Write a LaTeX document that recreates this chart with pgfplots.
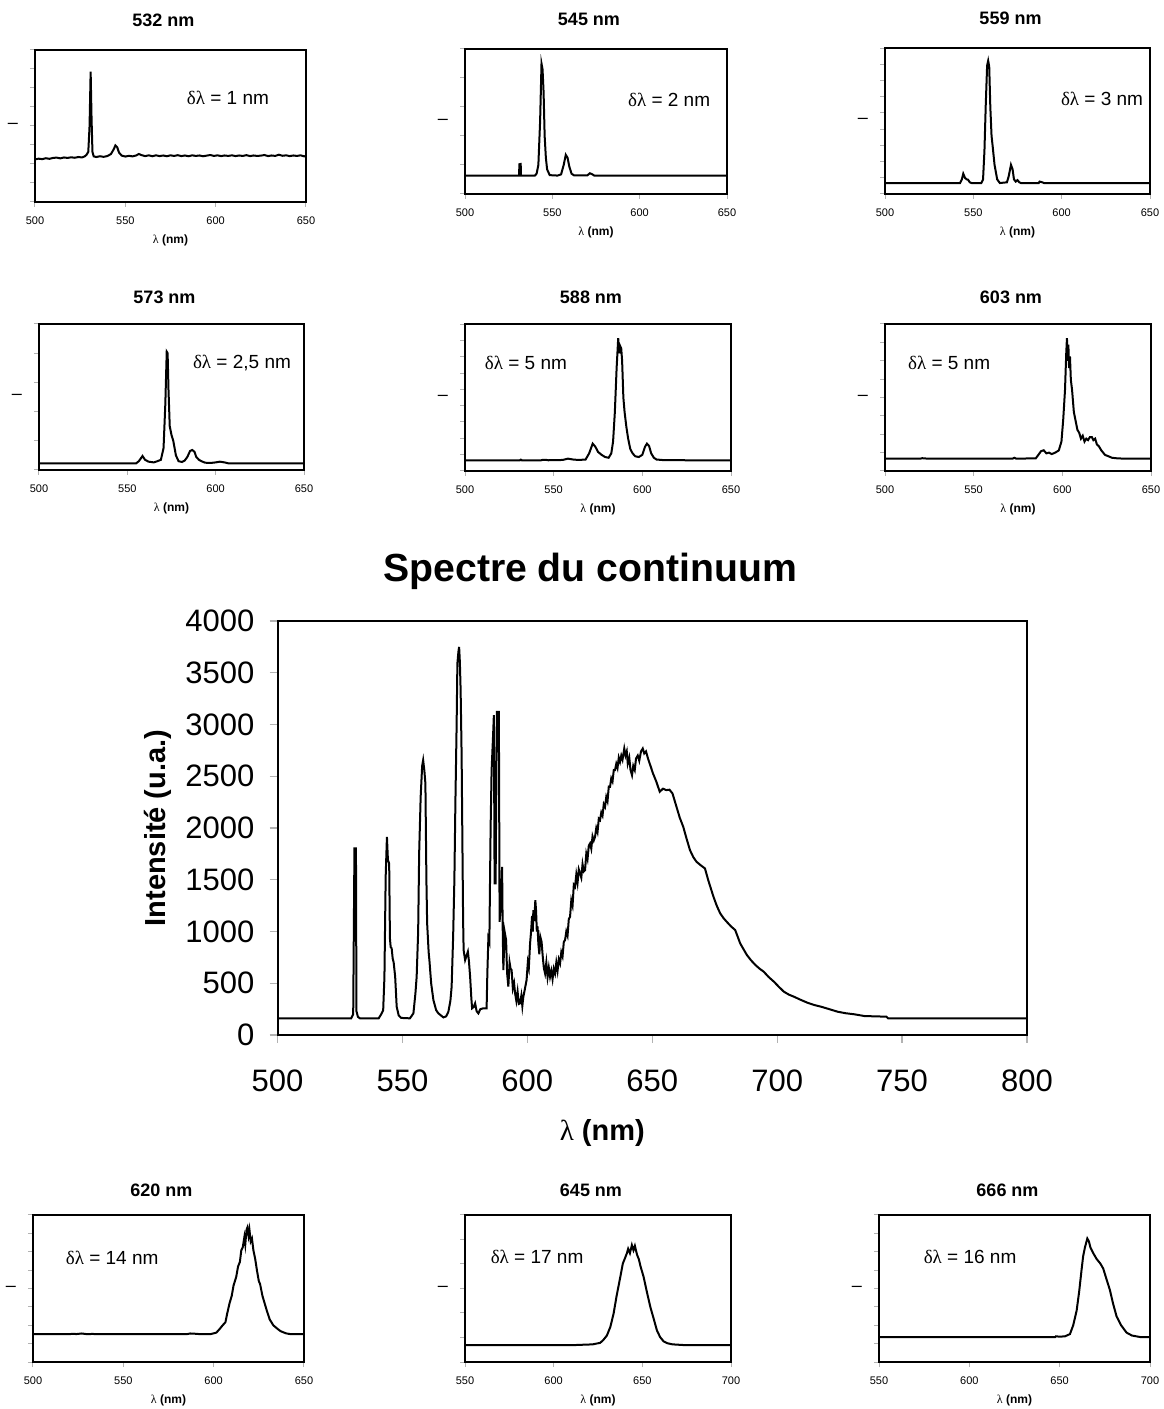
\documentclass[border=0pt]{standalone}
\usepackage{pgfplots}
\pgfplotsset{compat=1.18}
\usepackage{fontspec}
\setmainfont{Liberation Sans}
\newfontfamily\grk{Liberation Serif}
\newcommand{\fs}[1]{\fontsize{#1}{#1}\selectfont}
\pgfplotsset{
  smallp/.style={scale only axis, ymin=0, ymax=1,
    axis line style={line width=1.2pt, black},
    tick align=outside, major tick length=2.5pt,
    xtick pos=left, ytick pos=left,
    tick style={gray!60, line width=0.5pt},
    xtick distance=50,
    yticklabels={},
    tick label style={font=\fs{5.5}},
    /pgf/number format/assume math mode=true,
    /pgf/number format/1000 sep={},
    scaled ticks=false,
    xticklabel style={anchor=center, yshift=-7pt},
    extra y ticks={0.5}, extra y tick labels={--},
    extra y tick style={major tick length=0pt, yticklabel style={font=\fs{9}, xshift=-5pt}},
    title style={font=\bfseries\fs{9}, at={(0.5,1)}, anchor=center, xshift=-3.5pt},
    xlabel={{\grk λ} \textbf{(nm)}},
    xlabel style={font=\fs{6}, at={(0.5,0)}, anchor=center, yshift=-19pt},
    cycle list={{black}}, no marks,
    every axis plot post/.append style={line width=1pt, black}},
  row1/.style={title style={yshift=9pt}},
  row2/.style={title style={yshift=7.5pt}},
  row3/.style={title style={yshift=6.5pt}},
}
\begin{document}
\begin{tikzpicture}
\useasboundingbox (0,0) rectangle (581.5pt,704.5pt);

% ---------- Row 1 ----------
\begin{axis}[smallp,row1, at={(17.5pt,603.5pt)}, anchor=south west, width=135.5pt, height=76pt,
  xmin=500, xmax=650, ytick={0,0.125,...,1}, title={532 nm}]
\addplot coordinates {(500,0.280)(502,0.285)(504,0.282)(506,0.288)(508,0.284)(510,0.290)(512,0.292)(514,0.287)(516,0.293)(518,0.290)(520,0.294)(522,0.291)(524,0.296)(526,0.293)(527.5,0.300)(528.5,0.310)(529.5,0.330)(530.2,0.50)(530.8,0.857)(531.3,0.55)(531.8,0.33)(532.5,0.300)(534,0.296)(536,0.301)(538,0.297)(540,0.302)(542,0.315)(543.5,0.345)(544.5,0.372)(545.5,0.360)(546.5,0.325)(548,0.305)(550,0.299)(552,0.304)(554,0.300)(556,0.306)(557.5,0.316)(559,0.308)(561,0.302)(563,0.307)(565,0.301)(567,0.307)(569,0.302)(571,0.306)(573,0.301)(575,0.307)(577,0.303)(579,0.308)(581,0.302)(583,0.306)(585,0.301)(587,0.307)(589,0.303)(591,0.306)(593,0.301)(595,0.305)(597,0.309)(599,0.303)(601,0.307)(603,0.302)(605,0.306)(607,0.303)(609,0.307)(611,0.302)(613,0.306)(615,0.303)(617,0.308)(619,0.302)(621,0.306)(623,0.303)(625,0.305)(627,0.309)(629,0.302)(631,0.306)(633,0.303)(635,0.311)(637,0.304)(639,0.307)(641,0.302)(643,0.306)(645,0.303)(647,0.307)(649,0.300)(650,0.304)};
\node[font=\fs{9.5}] at (rel axis cs:0.712,0.684) {{\grk δλ} = 1 nm};
\end{axis}

\begin{axis}[smallp,row1, at={(232.5pt,607.5pt)}, anchor=south west, width=131pt, height=72.5pt,
  xmin=500, xmax=650, ytick={0,0.2,...,1}, title={545 nm}]
\addplot coordinates {(500,0.127)(531,0.127)(531.1,0.205)(531.9,0.207)(532,0.127)(540,0.127)(541,0.14)(542,0.20)(543,0.50)(543.8,0.899)(544.4,0.86)(545,0.70)(545.6,0.40)(546.3,0.25)(547,0.17)(548.5,0.13)(553,0.127)(555,0.135)(556.5,0.20)(557.7,0.27)(558.7,0.25)(559.7,0.19)(561,0.14)(562.5,0.128)(570,0.128)(571.5,0.143)(573,0.135)(574,0.127)(650,0.127)};
\node[font=\fs{9.5}] at (rel axis cs:0.779,0.648) {{\grk δλ} = 2 nm};
\end{axis}

\begin{axis}[smallp,row1, at={(442.5pt,607.5pt)}, anchor=south west, width=132.5pt, height=73pt,
  xmin=500, xmax=650, ytick={0,0.1111,...,1.01}, title={559 nm}]
\addplot coordinates {(500,0.075)(542.5,0.075)(543.5,0.10)(544.3,0.139)(545.3,0.11)(546.2,0.10)(547,0.098)(548,0.08)(549,0.075)(554.5,0.075)(555.5,0.10)(556.3,0.30)(557,0.60)(557.8,0.88)(558.4,0.913)(559,0.87)(559.6,0.60)(560.3,0.40)(561,0.32)(562,0.20)(563.5,0.10)(565,0.075)(569,0.08)(570,0.12)(571.3,0.20)(572.2,0.17)(573,0.10)(574,0.085)(575,0.095)(576,0.08)(577,0.075)(587,0.075)(587.5,0.085)(589,0.08)(590,0.075)(650,0.075)};
\node[font=\fs{9.5}] at (rel axis cs:0.819,0.651) {{\grk δλ} = 3 nm};
\end{axis}

% ---------- Row 2 ----------
\begin{axis}[smallp,row2, at={(19.5pt,469.5pt)}, anchor=south west, width=132.5pt, height=73pt,
  xmin=500, xmax=650, ytick={0,0.2,...,1}, title={573 nm}]
\addplot coordinates {(500,0.046)(555,0.046)(556.5,0.06)(558.6,0.096)(560,0.07)(562,0.057)(565,0.052)(567,0.06)(569,0.07)(570.5,0.15)(571.5,0.45)(572.3,0.81)(572.8,0.80)(573.3,0.55)(574,0.30)(575,0.24)(576,0.20)(577.5,0.10)(579,0.06)(581,0.055)(582.5,0.065)(584,0.09)(585.5,0.13)(586.7,0.137)(588,0.125)(589,0.09)(590.5,0.07)(592,0.06)(594,0.05)(597,0.048)(600,0.052)(602.4,0.057)(605,0.052)(607,0.046)(650,0.046)};
\node[font=\fs{9.5}] at (rel axis cs:0.766,0.733) {{\grk δλ} = 2,5 nm};
\end{axis}

\begin{axis}[smallp,row2, at={(232.5pt,469pt)}, anchor=south west, width=133pt, height=73.5pt,
  xmin=500, xmax=650, ytick={0,0.1111,...,1.01}, title={588 nm}]
\addplot coordinates {(500,0.073)(531,0.073)(531.5,0.077)(532,0.073)(543,0.073)(544,0.076)(546,0.075)(547,0.073)(555,0.075)(558,0.084)(561,0.078)(564,0.075)(568,0.078)(570,0.12)(572,0.186)(573.5,0.165)(575,0.13)(577,0.11)(579,0.095)(581,0.09)(582.5,0.12)(583.5,0.20)(584.5,0.40)(585.5,0.70)(586.4,0.904)(587,0.80)(587.5,0.85)(588.1,0.834)(588.6,0.75)(589.3,0.50)(590,0.40)(591,0.30)(592,0.22)(593.2,0.15)(594.5,0.12)(596,0.10)(598,0.095)(600,0.11)(601.5,0.165)(602.6,0.186)(603.8,0.17)(605,0.12)(606.5,0.09)(608,0.078)(612,0.074)(625,0.073)(650,0.073)};
\node[font=\fs{9.5}] at (rel axis cs:0.229,0.735) {{\grk δλ} = 5 nm};
\end{axis}

\begin{axis}[smallp,row2, at={(442.5pt,469pt)}, anchor=south west, width=133pt, height=73.5pt,
  xmin=500, xmax=650, ytick={0,0.125,...,1}, title={603 nm}]
\addplot coordinates {(500,0.084)(520,0.084)(521,0.087)(523,0.085)(524,0.084)(572,0.084)(573,0.090)(574,0.084)(585,0.086)(586.5,0.11)(588,0.135)(589.5,0.141)(591,0.12)(592.5,0.125)(594,0.115)(596,0.125)(598,0.14)(599.5,0.20)(600.5,0.35)(601.5,0.55)(602.2,0.80)(602.6,0.904)(603.0,0.75)(603.4,0.86)(603.8,0.70)(604.3,0.78)(604.8,0.62)(605.5,0.55)(606.5,0.40)(607.5,0.34)(608.5,0.28)(609.5,0.26)(610.5,0.22)(611.5,0.24)(612.5,0.20)(613.5,0.22)(614.5,0.21)(615.5,0.23)(616.7,0.23)(617.5,0.21)(618.5,0.22)(619.5,0.18)(620.5,0.17)(622,0.14)(624,0.11)(626,0.10)(628,0.09)(631,0.086)(635,0.084)(650,0.084)};
\node[font=\fs{9.5}] at (rel axis cs:0.241,0.735) {{\grk δλ} = 5 nm};
\end{axis}

% ---------- Main chart ----------
\begin{axis}[scale only axis, at={(138.75pt,187pt)}, anchor=south west, width=374.75pt, height=207pt,
  xmin=500, xmax=800, ymin=0, ymax=4000, xtick distance=50, ytick distance=500,
  xtick pos=left, ytick pos=left,
  tick align=outside, major tick length=4pt, tick style={gray!60, line width=0.6pt},
  axis line style={line width=1pt, black},
  tick label style={font=\fs{15.5}},
  /pgf/number format/assume math mode=true, /pgf/number format/1000 sep={}, scaled ticks=false,
  xticklabel style={yshift=-10pt}, yticklabel style={xshift=-4pt},
  title={Spectre du continuum},
  title style={font=\bfseries\fs{19.6}, at={(0.5,1)}, anchor=center, yshift=19pt, xshift=-31pt},
  xlabel={{\grk λ} \textbf{(nm)}},
  xlabel style={font=\fs{14.5}, at={(0.5,0)}, anchor=center, yshift=-49pt, xshift=-25pt},
  ylabel={\textbf{Intensité (u.a.)}},
  ylabel style={font=\fs{14.5}, at={(0,0.5)}, anchor=center, yshift=60pt},
  cycle list={{black}}, no marks,
  every axis plot post/.append style={line width=1pt, black}]
\addplot coordinates {(500,161)(529.5,161)(530.3,200)(530.8,1802)(531.4,1802)(531.6,230)(532.2,175)(533,161)(540.5,161)(541.5,200)(542.3,240)(542.8,560)(543.3,1530)(543.8,1915)(544.2,1690)(544.7,1657)(545.0,933)(545.3,850)(545.7,837)(546.1,740)(546.5,700)(547.1,563)(547.7,274)(548.5,190)(549.5,165)(553,161)(554.4,209)(555.2,400)(555.7,563)(556.3,1000)(556.7,1754)(557.3,2300)(557.9,2600)(558.3,2655)(558.8,2550)(559.2,2430)(559.6,1500)(559.9,1078)(560.5,800)(560.8,724)(561.5,500)(562.4,338)(563.5,240)(564.4,209)(566.4,170)(567.5,180)(568.4,225)(569.2,330)(569.7,467)(570.3,949)(570.8,1500)(571.2,2237)(571.7,3000)(572.0,3588)(572.4,3700)(572.7,3750)(573.0,3600)(573.3,3331)(573.7,2700)(574.0,1883)(574.3,1100)(574.5,821)(575.1,724)(575.6,760)(576.2,805)(576.6,720)(577.1,563)(577.6,350)(577.9,258)(578.5,270)(579.1,306)(579.7,230)(580.4,209)(581.2,250)(582.4,258)(583.7,258)(584.0,600)(584.4,933)(584.8,900)(585.3,2000)(585.7,2559)(586.3,2900)(586.6,3090)(586.9,1464)(587.3,1464)(587.8,3122)(588.6,3122)(588.9,1094)(589.5,1300)(589.9,1625)(590.1,1100)(590.4,628)(590.9,1000)(591.5,917)(591.9,600)(592.4,467)(592.9,700)(593.3,640)(593.7,628)(594.2,450)(594.7,500)(595.1,402)(595.6,330)(596.1,420)(596.6,300)(597.1,306)(597.6,380)(598.0,280)(598.4,370)(598.9,430)(599.3,480)(599.7,531)(600.2,700)(600.6,650)(601.1,885)(601.5,1000)(601.9,1150)(602.2,1000)(602.4,1207)(602.8,1100)(603.2,1303)(603.5,1200)(603.8,1000)(604.1,1050)(604.4,885)(604.8,780)(605.2,949)(605.7,900)(606.2,750)(606.6,650)(607.1,595)(607.6,700)(608.1,560)(608.6,650)(609.1,563)(609.6,620)(610.1,540)(610.6,640)(611.1,595)(611.6,700)(612.1,620)(612.6,730)(613.1,692)(613.6,800)(614.1,760)(614.6,900)(615.1,917)(615.6,1000)(616.1,960)(616.6,1120)(617.1,1143)(617.6,1300)(618.1,1250)(618.6,1450)(619.1,1432)(619.6,1550)(620.1,1470)(620.6,1600)(621.1,1561)(621.6,1520)(622.1,1650)(622.6,1580)(623.1,1593)(623.6,1750)(624.1,1700)(624.6,1830)(625.1,1851)(625.6,1800)(626.1,1920)(626.6,1880)(627.1,1915)(627.6,2000)(628.1,1960)(628.6,2090)(629.1,2076)(629.6,2150)(630.1,2120)(630.6,2230)(631.1,2205)(631.6,2300)(632.1,2260)(632.6,2400)(633.1,2398)(633.6,2480)(634.1,2450)(634.6,2560)(635.1,2559)(635.6,2620)(636.1,2580)(636.6,2680)(637.1,2639)(637.6,2700)(638.1,2660)(638.8,2768)(639.3,2700)(639.8,2740)(640.2,2623)(640.8,2680)(641.3,2560)(641.9,2510)(642.4,2600)(643.0,2560)(643.5,2671)(644.2,2700)(644.8,2650)(645.5,2740)(646.2,2768)(646.8,2720)(647.5,2740)(648.3,2671)(649.3,2600)(650.3,2527)(651.6,2450)(653.0,2350)(654.3,2380)(655.6,2366)(656.9,2370)(658.1,2334)(659.7,2205)(661.0,2100)(662.4,2012)(663.7,1900)(665.1,1786)(666.4,1720)(667.7,1674)(669.4,1640)(671.1,1609)(672.4,1497)(673.4,1420)(674.5,1336)(675.8,1250)(677.2,1175)(678.5,1130)(679.8,1094)(681.5,1050)(683.2,1014)(684.2,950)(685.2,885)(686.5,830)(687.9,772)(689.6,720)(691.3,676)(693.0,640)(694.6,612)(696.6,560)(698.7,515)(700.7,465)(702.7,418)(704.7,390)(706.7,370)(709.4,340)(712.1,312)(714.8,290)(717.5,274)(720.8,250)(724.2,225)(727.5,210)(730.9,200)(735.0,183)(743.7,177)(744.4,161)(800,161)};
\end{axis}

% ---------- Row 3 ----------
\begin{axis}[smallp,row3, at={(16.5pt,23.5pt)}, anchor=south west, width=135.5pt, height=73.5pt,
  xmin=500, xmax=650, ytick={0,0.125,...,1}, title={620 nm}]
\addplot coordinates {(500,0.189)(520,0.189)(522,0.192)(524,0.190)(527,0.194)(530,0.189)(533,0.191)(535,0.189)(585,0.189)(587,0.194)(590,0.192)(592,0.190)(598,0.189)(600,0.195)(601.5,0.20)(603,0.22)(605,0.25)(606.5,0.27)(607.5,0.33)(608.8,0.40)(610,0.45)(611,0.52)(612.5,0.58)(613.5,0.65)(614.5,0.68)(615.3,0.76)(616.1,0.78)(617,0.85)(617.5,0.80)(618.2,0.90)(618.7,0.916)(619.3,0.86)(619.8,0.90)(620.5,0.82)(621.2,0.84)(622,0.76)(623,0.70)(624,0.62)(625,0.55)(625.7,0.53)(627,0.45)(628.2,0.40)(629.4,0.35)(631,0.29)(633,0.25)(634.9,0.23)(637,0.21)(640,0.195)(642.3,0.19)(645,0.19)(650,0.189)};
\node[font=\fs{9.5}] at (rel axis cs:0.292,0.707) {{\grk δλ} = 14 nm};
\end{axis}

\begin{axis}[smallp,row3, at={(232.5pt,23.5pt)}, anchor=south west, width=133pt, height=73.5pt,
  xmin=550, xmax=700, ytick={0,0.1667,...,1.01}, title={645 nm}]
\addplot coordinates {(550,0.114)(612,0.114)(613,0.116)(618,0.118)(622,0.12)(624,0.125)(626.2,0.13)(628,0.15)(630,0.18)(632,0.24)(633.8,0.33)(635.5,0.45)(637.6,0.58)(639,0.67)(640,0.70)(641.3,0.74)(642,0.77)(643,0.74)(644.1,0.795)(645,0.76)(645.8,0.79)(647,0.73)(648,0.70)(649,0.65)(650.7,0.58)(652.5,0.48)(654.5,0.375)(656.5,0.29)(658.2,0.216)(660,0.17)(662,0.14)(664,0.128)(667,0.12)(671,0.117)(675,0.114)(700,0.114)};
\node[font=\fs{9.5}] at (rel axis cs:0.271,0.714) {{\grk δλ} = 17 nm};
\end{axis}

\begin{axis}[smallp,row3, at={(439.5pt,23.5pt)}, anchor=south west, width=135.5pt, height=73.5pt,
  xmin=550, xmax=700, ytick={0,0.125,...,1}, title={666 nm}]
\addplot coordinates {(550,0.17)(647.5,0.17)(648,0.175)(650,0.172)(653,0.175)(655.7,0.19)(657.5,0.25)(659.4,0.35)(660.8,0.48)(662.1,0.625)(663,0.72)(664,0.78)(665.3,0.84)(666.2,0.82)(667,0.78)(668.6,0.74)(670.5,0.70)(672.5,0.67)(674.1,0.636)(676,0.56)(677.8,0.49)(679.5,0.40)(681.5,0.31)(684,0.25)(687,0.20)(690,0.18)(694.5,0.17)(700,0.17)};
\node[font=\fs{9.5}] at (rel axis cs:0.336,0.714) {{\grk δλ} = 16 nm};
\end{axis}
\end{tikzpicture}
\end{document}
